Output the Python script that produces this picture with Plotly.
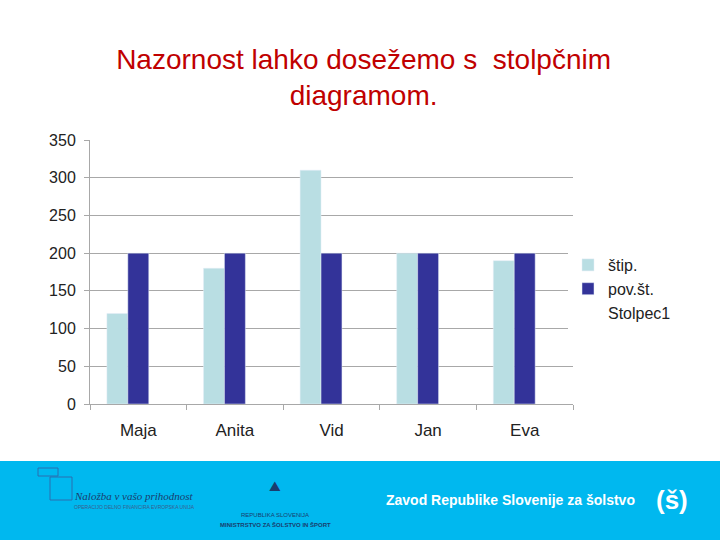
import plotly.graph_objects as go

# podatki
names = ["Maja", "Anita", "Vid", "Jan", "Eva"]
stip = [120, 180, 310, 200, 190]
pov_st = [200, 200, 200, 200, 200]
stolpec1 = [None, None, None, None, None]
y_ticks = [0, 50, 100, 150, 200, 250, 300, 350]

FONT = "Liberation Sans, Arial, sans-serif"
PW, PH, L, B = 483, 264, 90, 136  # velikost risalne ploskve v px


def px_x(x):
    return (x - L) / PW


def px_y(y):
    return (540 - B - y) / PH


fig = go.Figure()
fig.add_trace(go.Bar(x=names, y=stip, name="štip.", marker_color="#B9DEE3"))
fig.add_trace(go.Bar(x=names, y=pov_st, name="pov.št.", marker_color="#333399"))
fig.add_trace(go.Bar(x=names, y=stolpec1, name="Stolpec1",
                     marker=dict(color="rgba(0,0,0,0)", line_width=0)))

fig.update_layout(
    width=720, height=540,
    paper_bgcolor="white", plot_bgcolor="white",
    margin=dict(l=L, r=720 - L - PW, t=540 - B - PH, b=B, autoexpand=False),
    barmode="group", bargap=0.35, bargroupgap=0,
    font=dict(family=FONT, color="#222222"),
    title=dict(
        text="Nazornost lahko dosežemo s  stolpčnim<br>diagramom.",
        x=0.505, xanchor="center", y=0.873, yanchor="middle",
        font=dict(size=28, color="#C00000", family=FONT),
    ),
    legend=dict(
        x=px_x(568), y=px_y(289), xanchor="left", yanchor="middle",
        font=dict(size=16, color="#222222"),
        itemwidth=30, tracegroupgap=4,
    ),
    showlegend=True,
)

fig.update_yaxes(
    range=[0, 350], tickvals=y_ticks,
    showgrid=True, gridcolor="#A8A8A8", gridwidth=1,
    showline=True, linecolor="#A8A8A8",
    ticks="outside", ticklen=5, tickcolor="#A8A8A8",
    ticklabelstandoff=5,
    tickfont=dict(size=16, color="#222222"),
    zeroline=False,
)
fig.update_xaxes(
    showline=True, linecolor="#A8A8A8",
    ticks="outside", tickson="boundaries", ticklen=5, tickcolor="#A8A8A8",
    ticklabelstandoff=11,
    tickfont=dict(size=17, color="#222222"),
)

# modri trak na dnu
fig.add_shape(type="rect", xref="paper", yref="paper",
              x0=px_x(0), x1=px_x(720), y0=px_y(540), y1=px_y(461),
              fillcolor="#00B8EF", line_width=0, layer="below")

# logotip EU (obris)
fig.add_shape(type="rect", xref="paper", yref="paper",
              x0=px_x(38), x1=px_x(58), y0=px_y(476), y1=px_y(468),
              line=dict(color="#2a6fb0", width=1), fillcolor="rgba(0,0,0,0)")
fig.add_shape(type="rect", xref="paper", yref="paper",
              x0=px_x(50), x1=px_x(72), y0=px_y(500), y1=px_y(477),
              line=dict(color="#2a6fb0", width=1), fillcolor="rgba(0,0,0,0)")


def label(text, x, y, size, color, family=FONT):
    fig.add_annotation(text=text, xref="paper", yref="paper",
                       x=px_x(x), y=px_y(y), xanchor="center", yanchor="middle",
                       showarrow=False, font=dict(size=size, color=color, family=family))


label("<b>Zavod Republike Slovenije za šolstvo</b>", 510, 500, 14, "white")
label("<b>(š)</b>", 672, 500, 26, "white")
label("<i>Naložba v vašo prihodnost</i>", 134, 496, 11, "#1a3d6e", "Liberation Serif")
label("OPERACIJO DELNO FINANCIRA EVROPSKA UNIJA", 134, 507, 5, "#3a5d8e")
label("REPUBLIKA SLOVENIJA", 275, 515, 6, "#1a3d6e")
label("<b>MINISTRSTVO ZA ŠOLSTVO IN ŠPORT</b>", 275, 524, 6, "#1a3d6e")
label("⛰", 275, 486, 14, "#1a3d6e", "DejaVu Sans")

fig.write_html("out.html", config={"displayModeBar": False},
               post_script="document.body.style.margin='0';")
